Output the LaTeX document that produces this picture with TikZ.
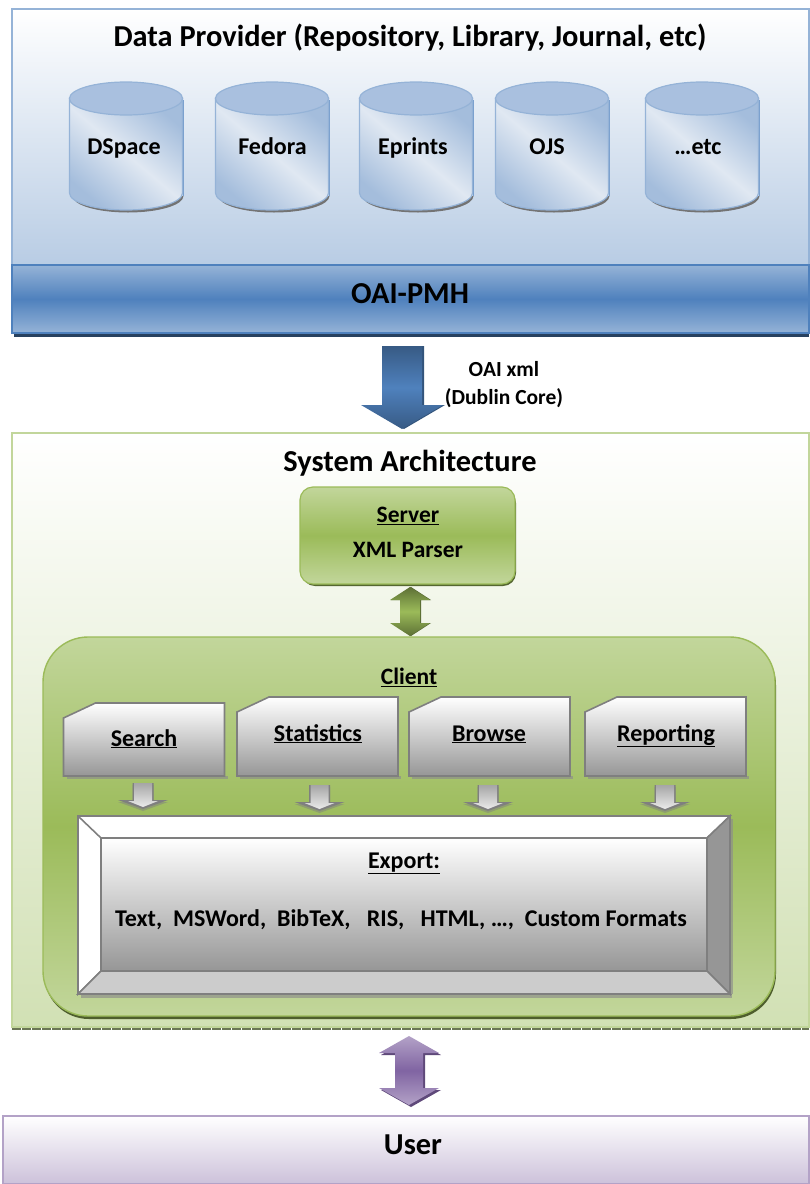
\documentclass[tikz,border=0pt]{standalone}
\usepackage{fontspec}
\setmainfont{Carlito}[BoldFont=Carlito Bold]
\usetikzlibrary{calc}
\definecolor{bluedark}{HTML}{4F81BD}
\definecolor{bluemid}{HTML}{95B3D7}
\definecolor{bluepale}{HTML}{B8CCE4}
\definecolor{cantone}{HTML}{A4BDDC}
\definecolor{canlight}{HTML}{E0E8F2}
\definecolor{cantop}{HTML}{A9C0DF}
\definecolor{greendark}{HTML}{9BBB59}
\definecolor{greenpale}{HTML}{C2D69B}
\definecolor{greyline}{HTML}{7F7F7F}
\definecolor{greylow}{HTML}{969696}
\definecolor{plumdark}{HTML}{5F497A}
\definecolor{plummid}{HTML}{8064A2}
\definecolor{plumline}{HTML}{B3A2C7}
\definecolor{plumpale}{HTML}{CCC1DA}
\tikzset{
  lbl/.style={font=\bfseries\fontsize{24}{27}\selectfont,text height=16pt,text depth=4pt},
  midlbl/.style={font=\bfseries\fontsize{23.5}{26}\selectfont},
  sublbl/.style={font=\bfseries\fontsize{21.5}{24}\selectfont},
  bigtitle/.style={font=\bfseries\fontsize{30.4}{33}\selectfont},
  greybox/.style={draw=greyline,line width=1.6pt,top color=white,bottom color=greylow},
  cansides/.style={draw=bluemid,line width=1.2pt,top color=cantone,bottom color=cantone,middle color=canlight,shading angle=-40},
  dropshade/.style={fill=black!45,opacity=.65}
}
% block arrow, pointing down
\newcommand{\blockdown}[6]{%
  \path[#6] ($(#1)+(-#3,0)$) -- ($(#1)+(#3,0)$) -- ($(#2)+(#3,-#5)$) -- ($(#2)+(#4,-#5)$)
    -- (#2) -- ($(#2)+(-#4,-#5)$) -- ($(#2)+(-#3,-#5)$) -- cycle;}
% block arrow, both ways
\newcommand{\blockboth}[6]{%
  \path[#6] (#1) -- ($(#1)+(#4,#5)$) -- ($(#1)+(#3,#5)$) -- ($(#2)+(#3,-#5)$) -- ($(#2)+(#4,-#5)$)
    -- (#2) -- ($(#2)+(-#4,-#5)$) -- ($(#2)+(-#3,-#5)$) -- ($(#1)+(-#3,#5)$) -- ($(#1)+(-#4,#5)$) -- cycle;}
% cylinder
\newcommand{\can}[4]{%
  \fill[black!55] (#1-54,196) -- (#1-54,196) arc (180:0:55.5 and 16.5) -- cycle;
  \fill[bluedark!40!bluemid] (#1+56,100) rectangle (#1+57.5,196);
  \path[cansides] (#1-57,98) -- (#1-57,193) arc (180:0:56.5 and 17) -- (#1+56,98) -- cycle;
  \fill[cantop,draw=bluemid,line width=1.2pt] (#1-.5,98.5) ellipse (56.5 and 16.5);
  \node[lbl] (#2) at (#3,148) {#4};}
% box with one cut corner
\newcommand{\snipbox}[6]{%
  \fill[dropshade] (#1+3,#3) rectangle (#1+164,#3+3);
  \path[greybox] (#1,#2+15) -- (#1+32,#2) -- (#1+161,#2) -- (#1+161,#3) -- (#1,#3) -- cycle;
  \node[lbl] (#4) at (#5,#6) {\underline{#4}};}

\begin{document}
\begin{tikzpicture}[x=1pt,y=-1pt]
\useasboundingbox (0,0) rectangle (809,1184);

%% data provider
\path[draw=bluemid,line width=1.2pt,top color=white,bottom color=bluepale] (12,9) rectangle (809,266);
\fill[bluedark!50!black] (14,332) rectangle (809,337);
\path[draw=bluedark,line width=1.2pt,top color=bluemid,bottom color=bluemid,middle color=bluedark] (12,265) rectangle (809,333);
\node[bigtitle] (provider) at (410,38) {Data Provider (Repository, Library, Journal, etc)};
\node[bigtitle] (oaipmh) at (410,294) {OAI-PMH};
\can{126.5}{dspace}{124}{DSpace}
\can{272.5}{fedora}{272.5}{Fedora}
\can{416.5}{eprints}{413}{Eprints}
\can{552.5}{ojs}{547}{OJS}
\can{702.5}{etc}{698}{…etc}

%% system panel
\path[draw=greenpale,line width=1.2pt,top color=white,bottom color=greenpale!75] (12,433) rectangle (809,1027);
\draw[black!45!greenpale,line width=1.5pt,dash pattern=on 9pt off 1pt] (12,1029) -- (809,1029);
\node[bigtitle] (system) at (410,463) {System Architecture};

\coordinate (oaitop) at (402,346);
\coordinate (oaitip) at (402,429);
\coordinate (oaitopb) at (404,346);
\coordinate (oaitipb) at (404,429);
\blockdown{oaitopb}{oaitipb}{20}{41}{24}{fill=bluedark!65!black}
\blockdown{oaitop}{oaitip}{20}{41}{24}{top color=bluedark!70!black,bottom color=bluedark!70!black,middle color=bluedark}
\node[sublbl] (oaixml) at (504,369) {OAI xml};
\node[sublbl] (dublin) at (504,398) {(Dublin Core)};

%% server
\fill[rounded corners=13pt,greendark!55!black] (302,490) rectangle (516,586);
\path[draw=greendark,line width=1.2pt,rounded corners=13pt,top color=greenpale,bottom color=greenpale,middle color=greendark] (300,487) rectangle (515,584);
\node[midlbl] (server) at (408,516) {\underline{Server}};
\node[midlbl] (xmlparser) at (408,550) {XML Parser};

\coordinate (srvtip) at (410,587);
\coordinate (clienttip) at (410,636);
\coordinate (srvtipb) at (411,587);
\coordinate (clienttipb) at (411,636);
\blockboth{srvtipb}{clienttipb}{10}{20}{13}{fill=greendark!55!black}
\blockboth{srvtip}{clienttip}{10}{20}{13}{top color=greendark!60!black,bottom color=greendark!60!black,middle color=greendark}

%% client
\fill[rounded corners=45pt,greendark!50!black] (44,640) rectangle (776,1019);
\path[draw=greendark,line width=1.4pt,rounded corners=45pt,top color=greenpale,bottom color=greenpale,middle color=greendark] (43,637) rectangle (775,1016);
\node[midlbl] (client) at (409,677) {\underline{Client}};

\snipbox{63.5}{703}{776}{Search}{144}{740}
\snipbox{237}{697}{776}{Statistics}{318}{735}
\snipbox{409}{697}{776}{Browse}{489}{735}
\snipbox{585}{697}{776}{Reporting}{666}{735}

\foreach \cx/\cy [count=\ci] in {143/783,319.5/785,488/785,665/785}{
  \coordinate (from\ci) at (\cx,\cy);
  \coordinate (to\ci) at (\cx,\cy+26);
  \coordinate (inner\ci) at (\cx,\cy+24);
  \coordinate (fromb\ci) at (\cx,\cy+2);
  \coordinate (tob\ci) at (\cx,\cy+28);
  \blockdown{fromb\ci}{tob\ci}{10.5}{25}{9}{fill=black!50,opacity=.5}
  \blockdown{from\ci}{to\ci}{10.5}{25}{9}{fill=greyline}
  \blockdown{from\ci}{inner\ci}{9}{15}{6}{top color=black!35,bottom color=black!8}
}

%% export
\fill[dropshade] (81,994) rectangle (732,998);
\fill[dropshade] (730,819) rectangle (733,994);
\filldraw[draw=greyline,line width=1.6pt,fill=white] (78,816) -- (730,816) -- (707,838) -- (101,838) -- (101,971) -- (78,994) -- cycle;
\draw[greyline,line width=1.6pt] (78,816) -- (101,838);
\filldraw[draw=greyline,line width=1.6pt,fill=greylow] (730,816) -- (730,994) -- (707,971) -- (707,838) -- cycle;
\filldraw[draw=greyline,line width=1.6pt,fill=black!20] (78,994) -- (101,971) -- (707,971) -- (730,994) -- cycle;
\path[greybox] (101,838) rectangle (707,971);
\node[lbl] (export) at (404,862) {\underline{Export:}};
\node[lbl] (formats) at (401,920) {Text,\ \ MSWord,\ \ BibTeX,\ \ \ RIS,\ \ \ HTML, …,\ \ Custom Formats};

%% user
\path[draw=plumline,line width=1.2pt,top color=white,bottom color=plumpale] (3,1116) rectangle (809,1184);
\node[bigtitle] (user) at (413,1145) {User};
\coordinate (systip) at (409,1036);
\coordinate (usertip) at (409,1105);
\coordinate (systipb) at (411,1038);
\coordinate (usertipb) at (411,1107);
\blockboth{systipb}{usertipb}{14}{30}{17}{fill=plumdark}
\blockboth{systip}{usertip}{14}{30}{17}{top color=plumline,bottom color=plumline,middle color=plummid}
\end{tikzpicture}
\end{document}
